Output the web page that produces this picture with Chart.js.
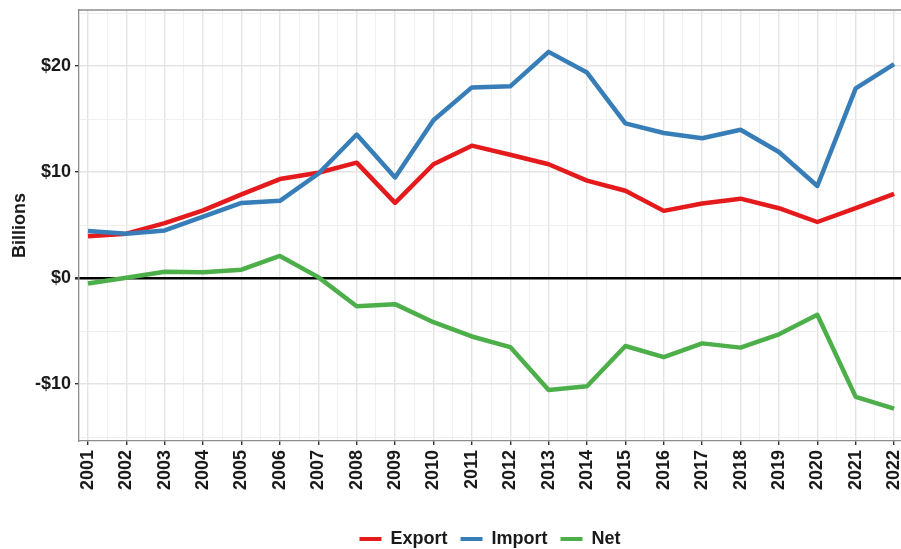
<!DOCTYPE html>
<html>
<head>
<meta charset="utf-8">
<script src="https://cdn.jsdelivr.net/npm/chart.js@4.4.1/dist/chart.umd.min.js"></script>
<style>
html, body { margin: 0; padding: 0; background: #fff; }
</style>
</head>
<body>
<canvas id="tradeChart" width="901" height="549"></canvas>
<script>
// trade values by year, in billions of dollars
var years = [2001, 2002, 2003, 2004, 2005, 2006, 2007, 2008, 2009, 2010, 2011,
             2012, 2013, 2014, 2015, 2016, 2017, 2018, 2019, 2020, 2021, 2022];
var exportVals = [3.95, 4.2, 5.2, 6.4, 7.9, 9.35, 9.95, 10.9, 7.1, 10.75, 12.5,
                  11.65, 10.75, 9.2, 8.25, 6.35, 7.05, 7.5, 6.6, 5.3, 6.6, 7.95];
var importVals = [4.45, 4.2, 4.5, 5.8, 7.1, 7.3, 9.85, 13.55, 9.5, 14.9, 18.0,
                  18.1, 21.35, 19.4, 14.6, 13.7, 13.2, 14.0, 11.9, 8.7, 17.9, 20.2];
var netVals = [-0.5, 0.05, 0.6, 0.55, 0.8, 2.1, 0.1, -2.65, -2.45, -4.15, -5.5,
               -6.5, -10.55, -10.2, -6.4, -7.45, -6.15, -6.55, -5.3, -3.45, -11.2, -12.3];
var yTicks = [-10, 0, 10, 20];

var seriesNames = ['Export', 'Import', 'Net'];
var seriesColors = ['#E41A1C', '#377EB8', '#4DAF4A'];

function toPoints(vals) {
    return years.map(function(yr, i) { return { x: yr, y: vals[i] }; });
}

function money(v) {
    return v < 0 ? '-$' + Math.abs(v) : '$' + v;
}

var font = { family: "'Liberation Sans', Arial, sans-serif", size: 18, weight: 'bold' };
var gridMajor = '#E4E4E4';
var gridMinor = '#EFEFEF';
var borderGray = '#8C8C8C';

// grey line along the top of the panel (left and bottom come from the axes)
var panelTop = {
    id: 'panelTop',
    afterDraw: function(chart) {
        var a = chart.chartArea, ctx = chart.ctx;
        ctx.save();
        ctx.strokeStyle = borderGray;
        ctx.lineWidth = 1.3;
        ctx.beginPath();
        ctx.moveTo(a.left, a.top);
        ctx.lineTo(chart.width, a.top);
        ctx.stroke();
        ctx.restore();
    }
};

var defaultLabels = Chart.defaults.plugins.legend.labels.generateLabels;

var ctx = document.getElementById('tradeChart').getContext('2d');
var tradeChart = new Chart(ctx, {
    type: 'line',
    data: {
        datasets: [exportVals, importVals, netVals].map(function(vals, i) {
            return {
                label: seriesNames[i],
                data: toPoints(vals),
                borderColor: seriesColors[i],
                backgroundColor: seriesColors[i],
                borderWidth: 4.5,
                borderJoinStyle: 'round',
                pointRadius: 0,
                tension: 0,
                order: 3 - i
            };
        })
    },
    options: {
        responsive: false,
        animation: false,
        devicePixelRatio: 1,
        layout: { padding: { top: 10, left: 0, right: 0, bottom: -9 } },
        plugins: {
            tooltip: { enabled: false },
            legend: {
                position: 'bottom',
                fullSize: false,
                labels: {
                    font: font,
                    color: '#1a1a1a',
                    boxWidth: 22,
                    boxHeight: 4,
                    padding: 13,
                    sort: function(a, b) { return a.datasetIndex - b.datasetIndex; },
                    generateLabels: function(chart) {
                        return defaultLabels(chart).map(function(l) {
                            l.lineWidth = 0;
                            return l;
                        });
                    }
                }
            }
        },
        scales: {
            x: {
                type: 'linear',
                min: 2000.766,
                max: 2022.18,
                border: { color: borderGray, width: 1.3 },
                grid: {
                    color: function(c) { return Number.isInteger(c.tick.value) ? gridMajor : gridMinor; },
                    lineWidth: function(c) { return Number.isInteger(c.tick.value) ? 1.4 : 1; },
                    tickColor: function(c) { return Number.isInteger(c.tick.value) ? '#333333' : 'rgba(0,0,0,0)'; },
                    tickLength: 4
                },
                ticks: {
                    stepSize: 0.5,
                    includeBounds: false,
                    autoSkip: false,
                    minRotation: 90,
                    maxRotation: 90,
                    padding: 5,
                    color: '#1a1a1a',
                    font: font,
                    callback: function(v) { return years.indexOf(v) >= 0 ? String(v) : ''; }
                },
                afterFit: function(s) {
                    s.height = 76;
                    s.paddingLeft = 0;
                    s.paddingRight = 0;
                }
            },
            y: {
                min: -15.36,
                max: 25.3,
                border: { color: borderGray, width: 1.3 },
                grid: {
                    color: function(c) {
                        var v = c.tick.value;
                        if (v === 0) return '#000000';
                        return v % 10 === 0 ? gridMajor : gridMinor;
                    },
                    lineWidth: function(c) {
                        var v = c.tick.value;
                        if (v === 0) return 2.6;
                        return v % 10 === 0 ? 1.4 : 1;
                    },
                    tickColor: function(c) { return yTicks.indexOf(c.tick.value) >= 0 ? '#333333' : 'rgba(0,0,0,0)'; },
                    tickLength: 4
                },
                ticks: {
                    stepSize: 5,
                    includeBounds: false,
                    padding: 4,
                    color: '#1a1a1a',
                    font: font,
                    callback: function(v) { return yTicks.indexOf(v) >= 0 ? money(v) : ''; }
                },
                title: {
                    display: true,
                    text: 'Billions',
                    color: '#1a1a1a',
                    font: font,
                    padding: { top: 9, bottom: 0 }
                },
                afterFit: function(s) {
                    s.width = 79;
                    s.paddingTop = 0;
                    s.paddingBottom = 0;
                }
            }
        }
    },
    plugins: [panelTop]
});
</script>
</body>
</html>
